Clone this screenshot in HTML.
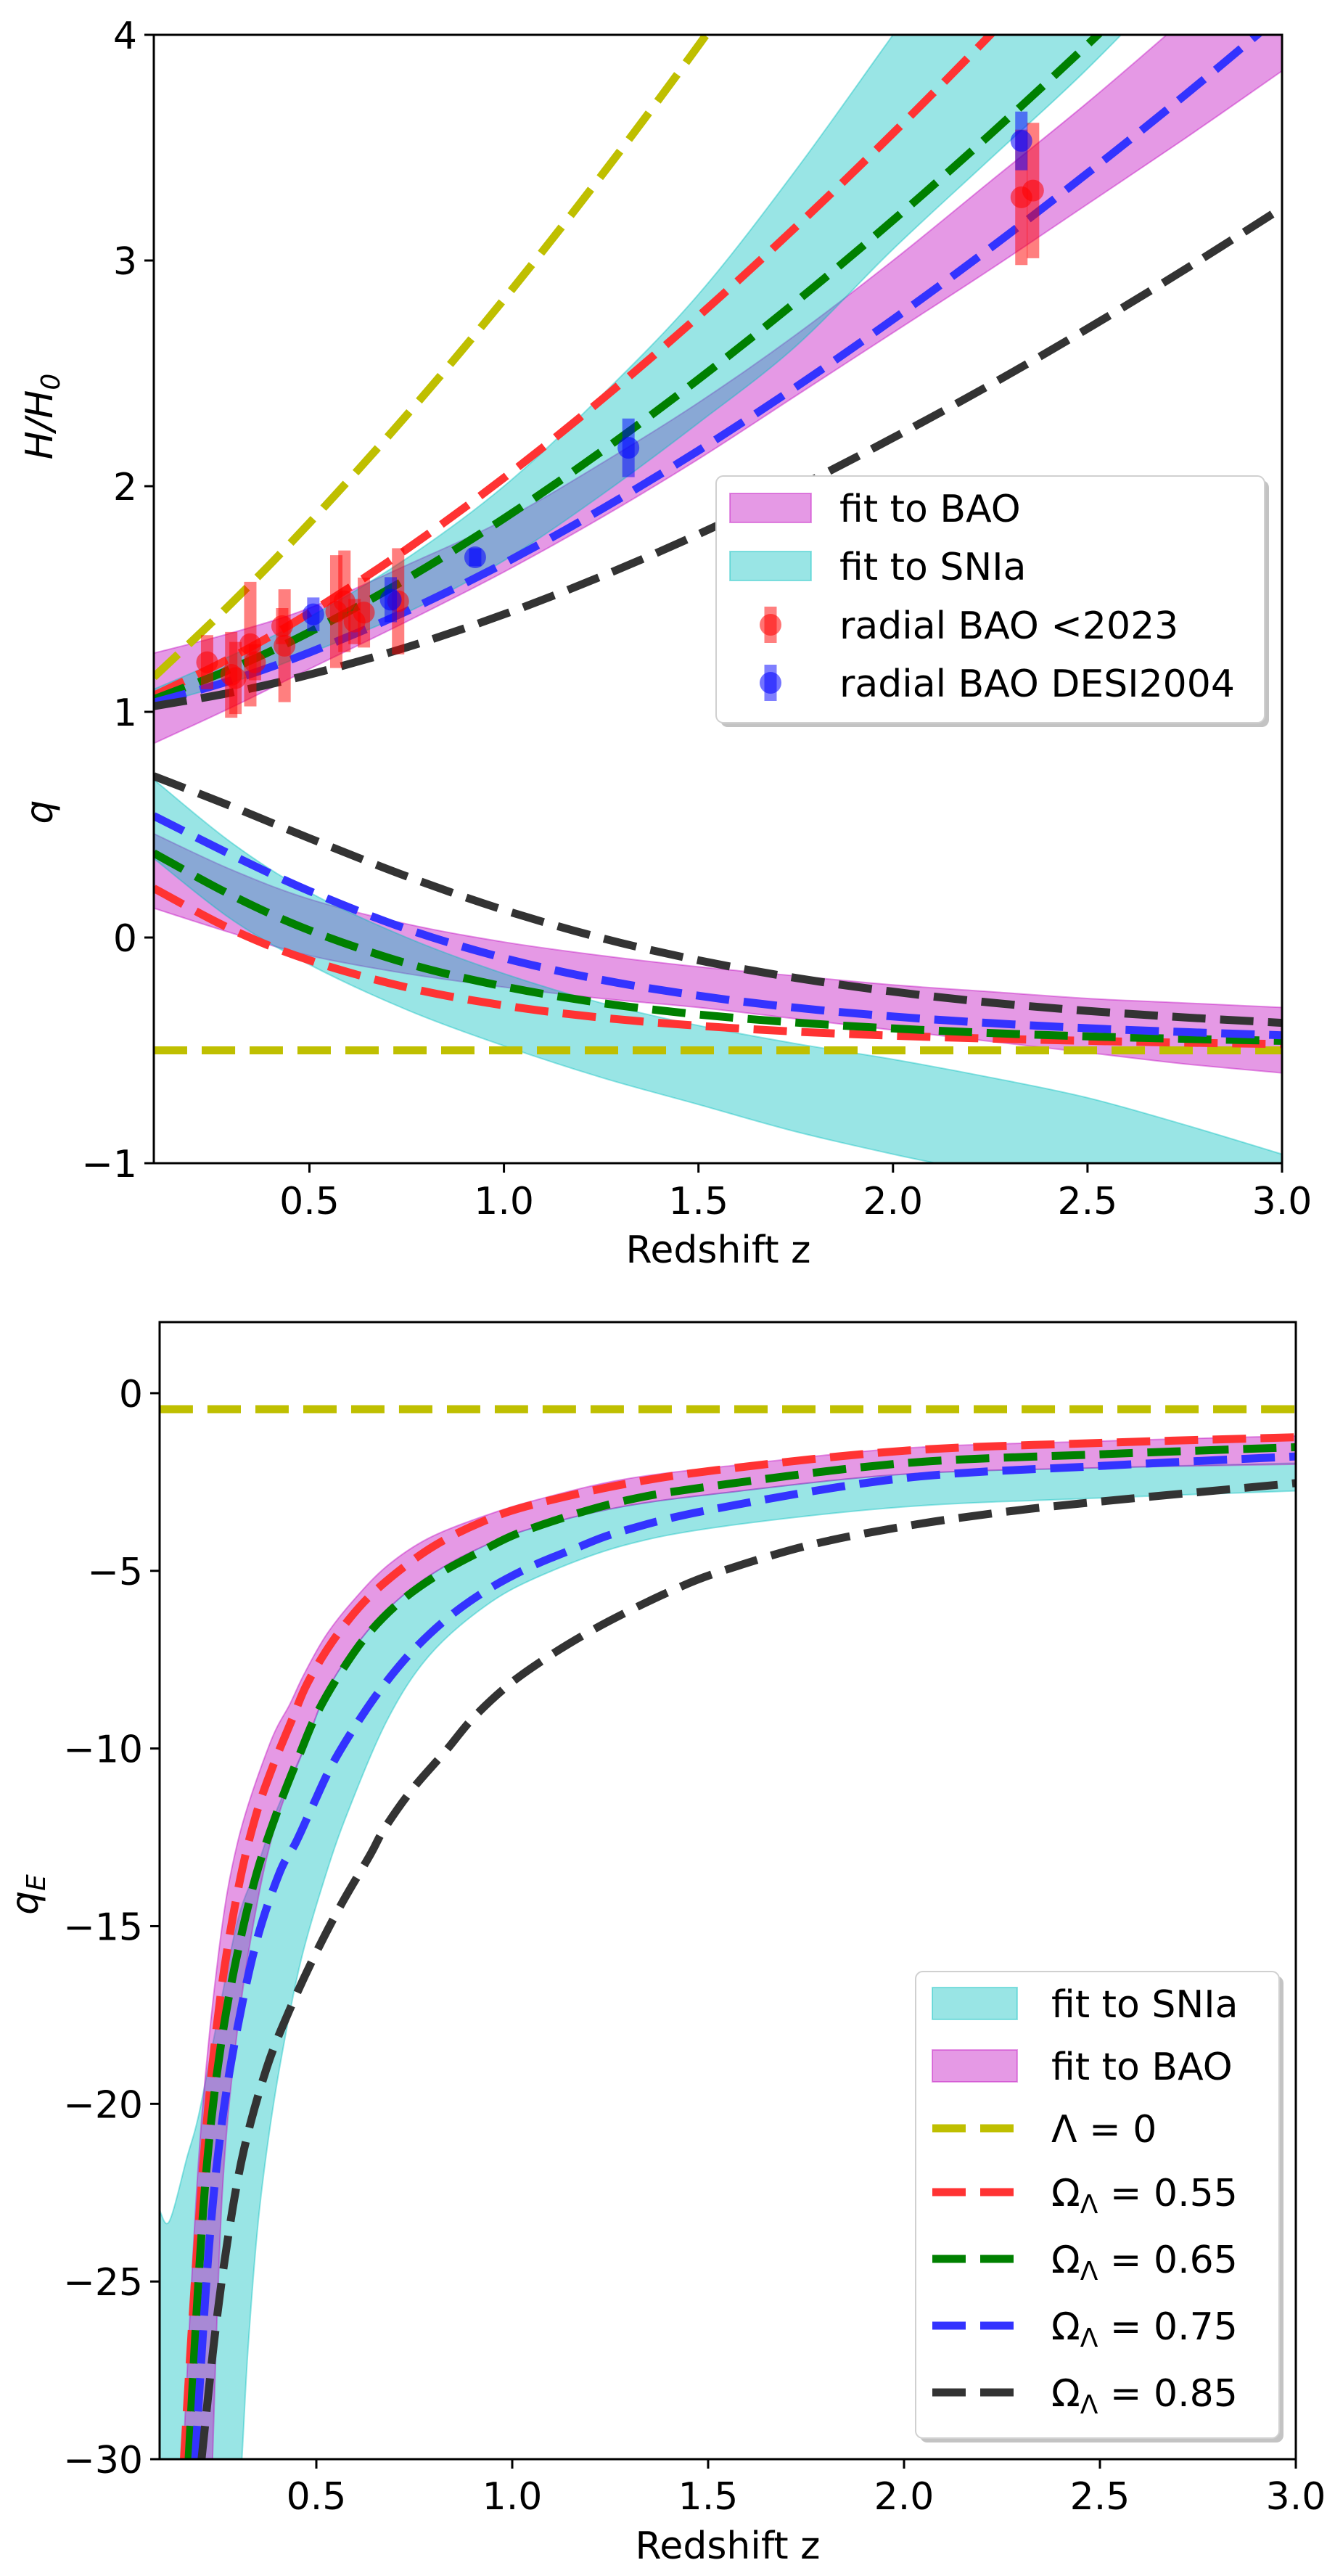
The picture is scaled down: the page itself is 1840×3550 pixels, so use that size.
<!DOCTYPE html>
<html><head><meta charset="utf-8"><style>
html,body{margin:0;padding:0;background:#fff;overflow:hidden}
svg{display:block;font-family:"DejaVu Sans","Liberation Sans",sans-serif}
</style></head><body>
<svg id="fig" xmlns="http://www.w3.org/2000/svg" width="1840" height="3550" viewBox="0 0 1840 3550">
<defs>
<clipPath id="clipTop"><rect x="212" y="48" width="1555" height="1555"/></clipPath>
<clipPath id="clipBot"><rect x="220" y="1822" width="1566" height="1567"/></clipPath>
</defs>
<g id="topPanel"></g>
<g id="botPanel"></g>
</svg>
<script>
// ---------- TOP PANEL DATA ----------
const zGrid = [0.1,0.3,0.5,0.75,1.0,1.25,1.5,1.75,2.0,2.25,2.5,2.75,3.0];
const H_y = [1.154,1.482,1.837,2.315,2.828,3.375,3.953,4.56,5.196];
const H_r = [1.072,1.241,1.438,1.721,2.037,2.382,2.753,3.148,3.564,4.0,4.454,4.927,5.418];
const H_g = [1.056,1.191,1.353,1.589,1.857,2.153,2.474,2.816,3.178,3.559,3.957,4.371,4.801];
const H_b = [1.041,1.140,1.263,1.446,1.658,1.897,2.158,2.439,2.739,3.055,3.387,3.732,4.093];
const H_k = [1.025,1.086,1.165,1.286,1.432,1.600,1.787,1.992,2.214,2.449,2.698,2.960,3.233];
const q_y = [-0.5,-0.5,-0.5,-0.5,-0.5,-0.5,-0.5,-0.5,-0.5,-0.5,-0.5,-0.5,-0.5];
const q_r = [0.218,0.036,-0.101,-0.221,-0.301,-0.355,-0.391,-0.417,-0.435,-0.448,-0.458,-0.466,-0.472];
const q_g = [0.374,0.187,0.032,-0.114,-0.217,-0.290,-0.341,-0.377,-0.403,-0.423,-0.438,-0.449,-0.458];
const q_b = [0.539,0.366,0.206,0.038,-0.091,-0.187,-0.258,-0.311,-0.350,-0.379,-0.402,-0.419,-0.433];
const q_k = [0.715,0.581,0.440,0.271,0.122,-0.002,-0.101,-0.179,-0.240,-0.288,-0.325,-0.354,-0.378];
const HbaoLo = [0.86,1.02,1.19,1.40,1.62,1.86,2.12,2.40,2.68,2.96,3.25,3.54,3.84];
const HbaoHi = [1.26,1.35,1.46,1.65,1.85,2.10,2.37,2.67,3.00,3.35,3.70,4.07,4.45];
const HsnLo = [1.03,1.13,1.26,1.44,1.67,1.96,2.28,2.62,3.05,3.45,3.85,4.3,4.8];
const HsnHi = [1.10,1.25,1.42,1.68,2.00,2.40,2.85,3.40,4.00,4.60,5.2,5.8,6.4];
const qbaoHi = [0.46,0.30,0.17,0.06,-0.02,-0.08,-0.13,-0.17,-0.21,-0.24,-0.27,-0.29,-0.31];
const qbaoLo = [0.13,0.02,-0.08,-0.16,-0.22,-0.27,-0.31,-0.36,-0.41,-0.46,-0.51,-0.56,-0.60];
const qsnHi = [0.70,0.42,0.20,0.00,-0.16,-0.29,-0.39,-0.47,-0.54,-0.62,-0.71,-0.83,-0.96];
const qsnLo = [0.35,0.08,-0.12,-0.32,-0.48,-0.62,-0.74,-0.86,-0.96,-1.05,-1.14,-1.23,-1.32];
const oldZ = [0.237,0.299,0.31,0.348,0.36,0.436,0.43,0.569,0.59,0.616,0.64,0.728,2.33,2.36];
const oldH = [1.22,1.164,1.15,1.30,1.22,1.293,1.38,1.444,1.49,1.40,1.44,1.49,3.28,3.31];
const oldE = [0.12,0.19,0.16,0.276,0.08,0.25,0.08,0.25,0.225,0.10,0.155,0.235,0.30,0.30];
const desiZ = [0.51,0.709,0.926,1.32,2.33];
const desiH = [1.432,1.497,1.685,2.17,3.53];
const desiE = [0.075,0.10,0.04,0.13,0.13];
const topXTicks = [0.5,1.0,1.5,2.0,2.5,3.0];
const topXLabels = ["0.5","1.0","1.5","2.0","2.5","3.0"];
const topYTicks = [4,3,2,1,0,-1];
const topYLabels = ["4","3","2","1","0","−1"];

// ---------- BOTTOM PANEL DATA ----------
const qe_y_z = [0.1,3.0];
const qe_y_v = [-0.45,-0.45];
const qe_r_z = [0.162,0.183,0.207,0.232,0.265,0.307,0.348,0.389,0.44,0.476,0.539,0.618,0.703,0.802,0.915,1.035,1.263,1.518,2.0,2.5,3.0];
const qe_r_v = [-30,-26.2,-22.3,-19.2,-16.2,-13.6,-11.8,-10.5,-9.13,-8.19,-7.02,-5.92,-5.07,-4.29,-3.66,-3.19,-2.61,-2.17,-1.62,-1.4,-1.24];
const qe_g_z = [0.174,0.199,0.224,0.257,0.298,0.348,0.406,0.455,0.5,0.561,0.632,0.717,0.816,0.922,1.035,1.27,1.515,2.0,2.5,3.0];
const qe_g_v = [-30,-25,-21.3,-18.3,-15.8,-13.5,-11.6,-10.23,-9.05,-7.88,-6.78,-5.84,-5.07,-4.44,-3.86,-3.07,-2.61,-1.97,-1.72,-1.52];
const qe_b_z = [0.191,0.224,0.257,0.298,0.348,0.406,0.448,0.49,0.54,0.604,0.674,0.752,0.845,0.943,1.05,1.163,1.276,1.51,2.0,2.5,3.0];
const qe_b_v = [-30,-24.3,-20.7,-17.9,-15.4,-13.5,-12.64,-11.63,-10.46,-9.29,-8.19,-7.18,-6.24,-5.49,-4.87,-4.36,-3.9,-3.27,-2.39,-2.05,-1.78];
const qe_k_z = [0.207,0.24,0.274,0.315,0.373,0.43,0.497,0.563,0.637,0.674,0.744,0.83,0.901,0.993,1.093,1.198,1.305,1.411,1.518,1.75,2.0,2.25,2.5,3.0];
const qe_k_v = [-30,-26.6,-23.8,-21.3,-19.0,-17.4,-15.8,-14.4,-13.0,-12.25,-11.16,-10.07,-9.13,-8.19,-7.41,-6.71,-6.09,-5.54,-5.07,-4.3,-3.75,-3.35,-3.05,-2.53];
const sn_hi_z = [0.1,0.125,0.17,0.2,0.25,0.3,0.35,0.4,0.469,0.525,0.597,0.681,0.787,0.93,1.07,1.283,1.544,2.0,2.5,3.0];
const sn_hi_v = [-23,-23.3,-21.5,-20.3,-17.5,-14.8,-13.3,-11.7,-9.99,-8.43,-7.17,-6.09,-5.15,-4.29,-3.74,-3.19,-2.8,-2.28,-2.1,-1.97];
const sn_lo_z = [0.1,0.2,0.29,0.307,0.325,0.35,0.38,0.414,0.46,0.52,0.58,0.681,0.787,0.93,1.07,1.283,1.544,2.0,2.5,3.0];
const sn_lo_v = [-33,-33,-32,-30.5,-27,-23.5,-20.8,-18.5,-16.0,-13.7,-11.8,-9.2,-7.4,-6.0,-5.15,-4.29,-3.74,-3.2,-2.95,-2.75];
const bao_hi_z = [0.155,0.16,0.2,0.25,0.3,0.38,0.433,0.469,0.525,0.597,0.681,0.787,0.93,1.07,1.283,1.544,2.0,2.5,3.0];
const bao_hi_v = [-32,-30,-21.5,-15.8,-12.6,-9.9,-8.74,-7.9,-6.81,-5.8,-4.86,-4.08,-3.45,-2.98,-2.43,-2.06,-1.55,-1.35,-1.2];
const bao_lo_z = [0.23,0.235,0.26,0.3,0.35,0.4,0.469,0.525,0.597,0.681,0.787,0.93,1.07,1.283,1.544,2.0,2.5,3.0];
const bao_lo_v = [-32,-30,-22.5,-17.8,-14.3,-12.0,-9.99,-8.43,-7.17,-6.09,-5.15,-4.29,-3.74,-3.19,-2.8,-2.28,-2.1,-2.0];
const botXTicks = [0.5,1.0,1.5,2.0,2.5,3.0];
const botXLabels = ["0.5","1.0","1.5","2.0","2.5","3.0"];
const botYTicks = [0,-5,-10,-15,-20,-25,-30];
const botYLabels = ["0","−5","−10","−15","−20","−25","−30"];

const NS = "http://www.w3.org/2000/svg";
function mk(parent, tag, attrs, text){
  const el = document.createElementNS(NS, tag);
  for (const k in attrs) el.setAttribute(k, attrs[k]);
  if (text !== undefined) el.textContent = text;
  parent.appendChild(el);
  return el;
}
function tsp(parent, attrs, text){ return mk(parent, "tspan", attrs, text); }
const tx = z => 212 + (z - 0.1) / 2.9 * 1555;
const ty = v => 48 + (4 - v) / 5 * 1555;
const bx = z => 220 + (z - 0.1) / 2.9 * 1566;
const by = v => 1822 + (2 - v) / 32 * 1567;

function pathFrom(p){
  if (p.length < 2) return "";
  let d = "M" + p[0][0].toFixed(1) + "," + p[0][1].toFixed(1);
  for (let i = 0; i < p.length - 1; i++){
    const p0 = p[Math.max(0,i-1)], p1 = p[i], p2 = p[i+1], p3 = p[Math.min(p.length-1,i+2)];
    const c1x = p1[0] + (p2[0]-p0[0])/6, c1y = p1[1] + (p2[1]-p0[1])/6;
    const c2x = p2[0] - (p3[0]-p1[0])/6, c2y = p2[1] - (p3[1]-p1[1])/6;
    d += " C" + c1x.toFixed(1)+","+c1y.toFixed(1)+" "+c2x.toFixed(1)+","+c2y.toFixed(1)+" "+p2[0].toFixed(1)+","+p2[1].toFixed(1);
  }
  return d;
}
function toPts(zs, vs, fx, fy){ return vs.map((v,i)=>[fx(zs[i]), fy(v)]); }
function bandPath(zh, vh, zl, vl, fx, fy){
  const up = toPts(zh, vh, fx, fy);
  const lo = toPts(zl, vl, fx, fy).reverse();
  return pathFrom(up) + pathFrom(lo).replace(/^M/, " L") + " Z";
}
const COL = {y:"#bfbf00", r:"#ff3333", g:"#008000", b:"#3333ff", k:"#333333"};
const DASH = "46 20";

// ---------------- TOP ----------------
const topG = document.getElementById("topPanel");
const tClip = mk(topG, "g", {"clip-path":"url(#clipTop)"});



let el;
el = mk(tClip, "path", {d: bandPath(zGrid, HbaoHi, zGrid, HbaoLo, tx, ty), fill:"#bf00bf", "fill-opacity":"0.4", stroke:"#bf00bf", "stroke-opacity":"0.4", "stroke-width":"2"});


el = mk(tClip, "path", {d: bandPath(zGrid, qbaoHi, zGrid, qbaoLo, tx, ty), fill:"#bf00bf", "fill-opacity":"0.4", stroke:"#bf00bf", "stroke-opacity":"0.4", "stroke-width":"2"});


el = mk(tClip, "path", {d: bandPath(zGrid, HsnHi, zGrid, HsnLo, tx, ty), fill:"#00bfbf", "fill-opacity":"0.4", stroke:"#00bfbf", "stroke-opacity":"0.4", "stroke-width":"2"});


el = mk(tClip, "path", {d: bandPath(zGrid, qsnHi, zGrid, qsnLo, tx, ty), fill:"#00bfbf", "fill-opacity":"0.4", stroke:"#00bfbf", "stroke-opacity":"0.4", "stroke-width":"2"});



const topLines = [
  ["line-h-lambda0", zGrid.slice(0,H_y.length), H_y, COL.y],
  ["line-h-omega055", zGrid, H_r, COL.r],
  ["line-h-omega065", zGrid, H_g, COL.g],
  ["line-h-omega075", zGrid, H_b, COL.b],
  ["line-h-omega085", zGrid, H_k, COL.k],
  ["line-q-lambda0", zGrid, q_y, COL.y],
  ["line-q-omega055", zGrid, q_r, COL.r],
  ["line-q-omega065", zGrid, q_g, COL.g],
  ["line-q-omega075", zGrid, q_b, COL.b],
  ["line-q-omega085", zGrid, q_k, COL.k]
];
for (const L of topLines){
  el = mk(tClip, "path", {d: pathFrom(toPts(L[1], L[2], tx, ty)), fill:"none", stroke:L[3], "stroke-width":"11", "stroke-dasharray":DASH});
  
  
}
for (let i = 0; i < oldZ.length; i++){
  const g = mk(tClip, "g", {});
  
  
  mk(g, "line", {x1:tx(oldZ[i]), x2:tx(oldZ[i]), y1:ty(oldH[i]+oldE[i]), y2:ty(oldH[i]-oldE[i]), stroke:"#ff0000", "stroke-opacity":"0.5", "stroke-width":"17"});
  mk(g, "circle", {cx:tx(oldZ[i]), cy:ty(oldH[i]), r:"15", fill:"#ff0000", "fill-opacity":"0.55"});
}
for (let i = 0; i < desiZ.length; i++){
  const g = mk(tClip, "g", {});
  
  
  mk(g, "line", {x1:tx(desiZ[i]), x2:tx(desiZ[i]), y1:ty(desiH[i]+desiE[i]), y2:ty(desiH[i]-desiE[i]), stroke:"#0000ff", "stroke-opacity":"0.5", "stroke-width":"17"});
  mk(g, "circle", {cx:tx(desiZ[i]), cy:ty(desiH[i]), r:"15", fill:"#0000ff", "fill-opacity":"0.55"});
}
el = mk(topG, "rect", {x:212, y:48, width:1555, height:1555, fill:"none", stroke:"#000", "stroke-width":"3"});


topXTicks.forEach((t,i)=>{
  const x = tx(t);
  let a = mk(topG, "line", {x1:x, x2:x, y1:1603, y2:1616, stroke:"#000", "stroke-width":"3"});
  
  
  a = mk(topG, "text", {x:x, y:1673, "font-size":"52", "text-anchor":"middle"}, topXLabels[i]);
  
  
});
topYTicks.forEach((t,i)=>{
  const y = ty(t);
  let a = mk(topG, "line", {x1:199, x2:212, y1:y, y2:y, stroke:"#000", "stroke-width":"3"});
  
  
  a = mk(topG, "text", {x:189, y:y+19, "font-size":"52", "text-anchor":"end"}, topYLabels[i]);
  
  
});
el = mk(topG, "text", {x:990, y:1740, "font-size":"52", "text-anchor":"middle"}, "Redshift z");


el = mk(topG, "text", {x:0, y:0, "font-size":"52", "text-anchor":"middle", "font-style":"italic", transform:"translate(72,574) rotate(-90)"});


tsp(el, {}, "H/H");
tsp(el, {"font-size":"36", dy:"10"}, "0");
el = mk(topG, "text", {x:0, y:0, "font-size":"52", "text-anchor":"middle", "font-style":"italic", transform:"translate(72,1119) rotate(-90)"}, "q");



const tl = mk(topG, "g", {});


mk(tl, "rect", {x:993, y:662, width:756, height:340, rx:10, fill:"#888", "fill-opacity":"0.5"});
mk(tl, "rect", {x:987, y:656, width:756, height:340, rx:10, fill:"#fff", stroke:"#d0d0d0", "stroke-width":"2"});
const tRows = [700,780,861,941];
const tLab = ["fit to BAO","fit to SNIa","radial BAO <2023","radial BAO DESI2004"];
tRows.forEach((y,i)=>{
  const g = mk(tl, "g", {});
  
  
  if (i === 0) mk(g, "rect", {x:1006, y:y-20, width:112, height:40, fill:"#bf00bf", "fill-opacity":"0.4", stroke:"#bf00bf", "stroke-opacity":"0.4", "stroke-width":"2"});
  if (i === 1) mk(g, "rect", {x:1006, y:y-20, width:112, height:40, fill:"#00bfbf", "fill-opacity":"0.4", stroke:"#00bfbf", "stroke-opacity":"0.4", "stroke-width":"2"});
  if (i >= 2){
    const c = i === 2 ? "#ff0000" : "#0000ff";
    mk(g, "line", {x1:1062, x2:1062, y1:y-25, y2:y+25, stroke:c, "stroke-opacity":"0.5", "stroke-width":"17"});
    mk(g, "circle", {cx:1062, cy:y, r:15, fill:c, "fill-opacity":"0.55"});
  }
  mk(g, "text", {x:1157, y:y+19, "font-size":"52"}, tLab[i]);
});

// ---------------- BOTTOM ----------------
const botG = document.getElementById("botPanel");
const bClip = mk(botG, "g", {"clip-path":"url(#clipBot)"});


el = mk(bClip, "path", {d: bandPath(sn_hi_z, sn_hi_v, sn_lo_z, sn_lo_v, bx, by), fill:"#00bfbf", "fill-opacity":"0.4", stroke:"#00bfbf", "stroke-opacity":"0.4", "stroke-width":"2"});


el = mk(bClip, "path", {d: bandPath(bao_hi_z, bao_hi_v, bao_lo_z, bao_lo_v, bx, by), fill:"#bf00bf", "fill-opacity":"0.4", stroke:"#bf00bf", "stroke-opacity":"0.4", "stroke-width":"2"});


const botLines = [
  ["line-qe-lambda0", qe_y_z, qe_y_v, COL.y],
  ["line-qe-omega055", qe_r_z, qe_r_v, COL.r],
  ["line-qe-omega065", qe_g_z, qe_g_v, COL.g],
  ["line-qe-omega075", qe_b_z, qe_b_v, COL.b],
  ["line-qe-omega085", qe_k_z, qe_k_v, COL.k]
];
for (const L of botLines){
  el = mk(bClip, "path", {d: pathFrom(toPts(L[1], L[2], bx, by)), fill:"none", stroke:L[3], "stroke-width":"11", "stroke-dasharray":DASH});
  
  
}
el = mk(botG, "rect", {x:220, y:1822, width:1566, height:1567, fill:"none", stroke:"#000", "stroke-width":"3"});


botXTicks.forEach((t,i)=>{
  const x = bx(t);
  let a = mk(botG, "line", {x1:x, x2:x, y1:3389, y2:3402, stroke:"#000", "stroke-width":"3"});
  
  
  a = mk(botG, "text", {x:x, y:3458, "font-size":"52", "text-anchor":"middle"}, botXLabels[i]);
  
  
});
botYTicks.forEach((t,i)=>{
  const y = by(t);
  let a = mk(botG, "line", {x1:207, x2:220, y1:y, y2:y, stroke:"#000", "stroke-width":"3"});
  
  
  a = mk(botG, "text", {x:197, y:y+19, "font-size":"52", "text-anchor":"end"}, botYLabels[i]);
  
  
});
el = mk(botG, "text", {x:1003, y:3526, "font-size":"52", "text-anchor":"middle"}, "Redshift z");


el = mk(botG, "text", {x:0, y:0, "font-size":"52", "text-anchor":"middle", "font-style":"italic", transform:"translate(52,2611) rotate(-90)"});


tsp(el, {}, "q");
tsp(el, {"font-size":"36", dy:"10"}, "E");

const bl = mk(botG, "g", {});


mk(bl, "rect", {x:1268, y:2723, width:501, height:643, rx:10, fill:"#888", "fill-opacity":"0.5"});
mk(bl, "rect", {x:1262, y:2717, width:501, height:643, rx:10, fill:"#fff", stroke:"#d0d0d0", "stroke-width":"2"});
const bRows = [2761,2847,2933,3021,3113,3205,3297];
const bLab = ["fit to SNIa","fit to BAO","Λ = 0","0.55","0.65","0.75","0.85"];
const bCol = [null,null,COL.y,COL.r,COL.g,COL.b,COL.k];
bRows.forEach((y,i)=>{
  const g = mk(bl, "g", {});
  
  
  if (i === 0) mk(g, "rect", {x:1285, y:y-22, width:117, height:44, fill:"#00bfbf", "fill-opacity":"0.4", stroke:"#00bfbf", "stroke-opacity":"0.4", "stroke-width":"2"});
  if (i === 1) mk(g, "rect", {x:1285, y:y-22, width:117, height:44, fill:"#bf00bf", "fill-opacity":"0.4", stroke:"#bf00bf", "stroke-opacity":"0.4", "stroke-width":"2"});
  if (i >= 2) mk(g, "line", {x1:1285, x2:1402, y1:y, y2:y, stroke:bCol[i], "stroke-width":"11", "stroke-dasharray":"46 20"});
  if (i < 3){
    mk(g, "text", {x:1449, y:y+19, "font-size":"52"}, bLab[i]);
  } else {
    const t = mk(g, "text", {x:1449, y:y+19, "font-size":"52"});
    tsp(t, {}, "Ω");
    tsp(t, {"font-size":"36", dy:"10"}, "Λ");
    tsp(t, {dy:"-10"}, " = " + bLab[i]);
  }
});
</script>
</body></html>
